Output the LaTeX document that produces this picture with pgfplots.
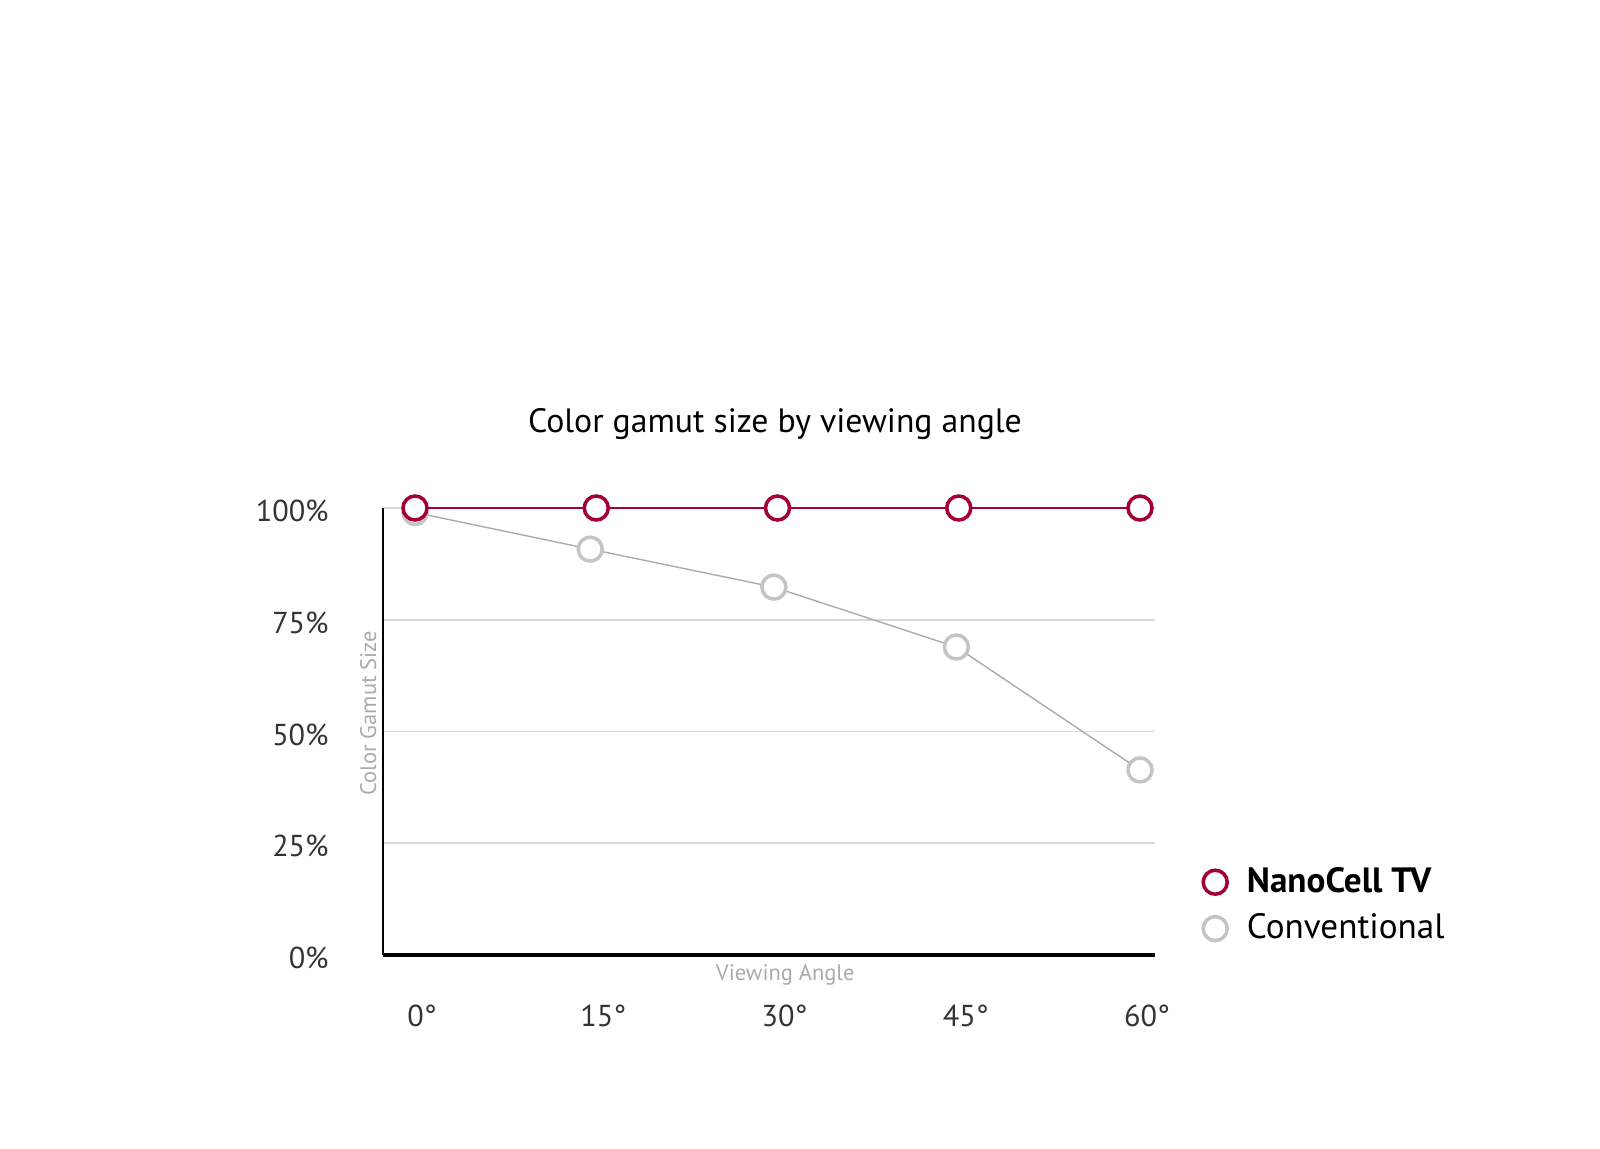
\documentclass[border=0pt]{standalone}
\usepackage{pgfplots}
\pgfplotsset{compat=1.18}
\usepackage{fontspec}
\setmainfont{PT Sans}
\definecolor{lgred}{HTML}{A50034}
\definecolor{convmark}{HTML}{C4C4C4}
\definecolor{convline}{HTML}{ABABAB}
\definecolor{gridc}{HTML}{D9D9D9}
\definecolor{ticktxt}{HTML}{333333}
\definecolor{labtxt}{HTML}{AAAAAA}
\begin{document}
\begin{tikzpicture}
\path[use as bounding box] (0,0) rectangle (16,11.48);
\node[font=\fontsize{9.6}{12}\selectfont, text=black] at (7.75,7.24) {Color gamut size by viewing angle};
\begin{axis}[
  at={(3.83cm,1.93cm)}, anchor=south west,
  scale only axis, width=7.72cm, height=4.47cm,
  xmin=-2.65, xmax=61.24, ymin=0, ymax=100,
  axis x line=bottom, axis y line=left,
  axis line style={-},
  x axis line style={line width=0.9pt, black},
  y axis line style={line width=0.45pt, black},
  xtick={0,15,30,45,60},
  xticklabels={0°,15°,30°,45°,60°},
  ytick={0,25,50,75,100},
  yticklabels={0\%,25\%,50\%,75\%,100\%},
  major tick length=0pt,
  ymajorgrids, grid style={gridc, line width=0.5pt},
  tick label style={font=\fontsize{8.6}{10}\selectfont, text=ticktxt},
  xticklabel style={yshift=-0.38cm, xshift=0.07cm},
  yticklabel style={xshift=-0.42cm, yshift=-0.03cm},
  xlabel={Viewing Angle}, ylabel={Color Gamut Size},
  label style={font=\fontsize{6.4}{8}\selectfont, text=labtxt},
  xlabel style={at={(axis description cs:0.521,0)}, anchor=center, yshift=-0.2cm},
  ylabel style={at={(axis description cs:-0.019,0.541)}, anchor=center},
  clip=false,
  legend style={at={(1.047,0.111)}, anchor=west, draw=none, fill=none,
    font=\fontsize{10}{12}\selectfont, row sep=0.02cm},
  legend cell align=left,
  legend image code/.code={\path (0cm,0cm) (0.36cm,0cm); \draw[#1] plot coordinates {(0.12cm,0cm)};},
]
\addlegendimage{only marks, mark=*, mark size=0.12cm, mark options={fill=white, draw=lgred, line width=1pt}}
\addlegendentry{\textbf{NanoCell TV}}
\addlegendimage{only marks, mark=*, mark size=0.12cm, mark options={fill=white, draw=convmark, line width=1pt}}
\addlegendentry{Conventional}
\addplot[forget plot, convline, line width=0.4pt, mark=*, mark size=0.12cm,
  mark options={fill=white, draw=convmark, line width=1pt}]
  coordinates {(0,99) (14.5,90.8) (29.7,82.3) (44.8,68.9) (60,41.4)};
\addplot[forget plot, lgred, line width=0.6pt, mark=*, mark size=0.12cm,
  mark options={fill=white, draw=lgred, line width=1pt}]
  coordinates {(0,100) (15,100) (30,100) (45,100) (60,100)};
\end{axis}
\end{tikzpicture}
\end{document}
